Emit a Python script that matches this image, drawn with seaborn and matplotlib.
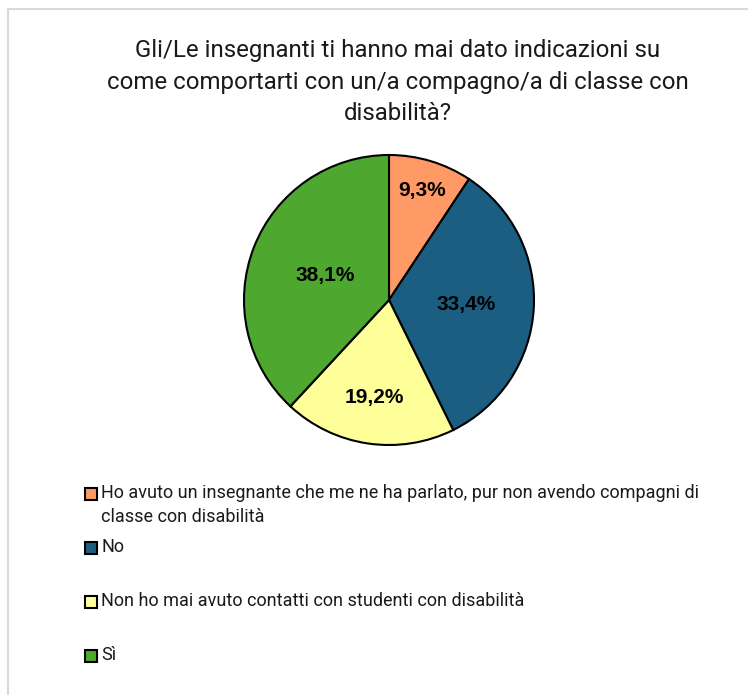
import matplotlib
matplotlib.use("Agg")
import matplotlib.pyplot as plt
import seaborn as sns
import numpy as np
from matplotlib.patches import Rectangle
from matplotlib.lines import Line2D

# -----------------------------
# DATA
# -----------------------------
categories = [
    "Ho avuto un insegnante che me ne ha parlato, pur non avendo compagni di\nclasse con disabilità",
    "No",
    "Non ho mai avuto contatti con studenti con disabilità",
    "Sì",
]
values = [9.3, 33.4, 19.2, 38.1]
colors = ["#FF9966", "#1B5E82", "#FFFF99", "#4EA72E"]
title = "Gli/Le insegnanti ti hanno mai dato indicazioni su\ncome comportarti con un/a compagno/a di classe con\ndisabilità?"

sns.set_style("white")
plt.rcParams["font.family"] = ["Liberation Sans Narrow", "Roboto", "DejaVu Sans"]

W, H = 748, 695
fig = plt.figure(figsize=(W / 100, H / 100), dpi=100)

# light grey frame (only top/left edges visible)
fig.add_artist(Line2D([8 / W, 8 / W], [0, 1 - 9 / H], transform=fig.transFigure,
                      color="#D9D9D9", linewidth=1.5))
fig.add_artist(Line2D([8 / W, 1], [1 - 9 / H, 1 - 9 / H], transform=fig.transFigure,
                      color="#D9D9D9", linewidth=1.5))

# pie axes: center (389, 300), radius 145 px
cx, cy, r = 389, 300, 145
ax = fig.add_axes([(cx - r) / W, 1 - (cy + r) / H, 2 * r / W, 2 * r / H])
wedges, texts = ax.pie(values, colors=colors, startangle=90, counterclock=False,
                       wedgeprops=dict(edgecolor="black", linewidth=1.5))
ax.set_xlim(-1, 1)
ax.set_ylim(-1, 1)
ax.set_aspect("equal")
ax.axis("off")

# percentage labels
label_r = [0.79, 0.53, 0.68, 0.47]
for v, w, lr in zip(values, wedges, label_r):
    mid = np.deg2rad((w.theta1 + w.theta2) / 2)
    ax.text(lr * np.cos(mid), lr * np.sin(mid), f"{v:.1f}%".replace(".", ","),
            ha="center", va="center", fontsize=15, fontweight="bold",
            family=["Liberation Sans", "DejaVu Sans"], color="black")

fig.text(398 / W, 1 - 82 / H, title, ha="center", va="center", fontsize=17.3,
         linespacing=1.45, color="#1a1a1a")

# legend (manual, matching uneven spacing)
leg_y = [494, 548, 602, 656]
for c, lab, y in zip(colors, categories, leg_y):
    fig.add_artist(Rectangle((85 / W, 1 - (y + 6) / H), 12 / W, 12 / H,
                             transform=fig.transFigure, facecolor=c,
                             edgecolor="black", linewidth=1.5))
    fig.text(101 / W, 1 - (y - 10) / H, lab, ha="left", va="top", fontsize=13,
             linespacing=1.45, color="#1a1a1a")

fig.savefig("out.png", dpi=100)
